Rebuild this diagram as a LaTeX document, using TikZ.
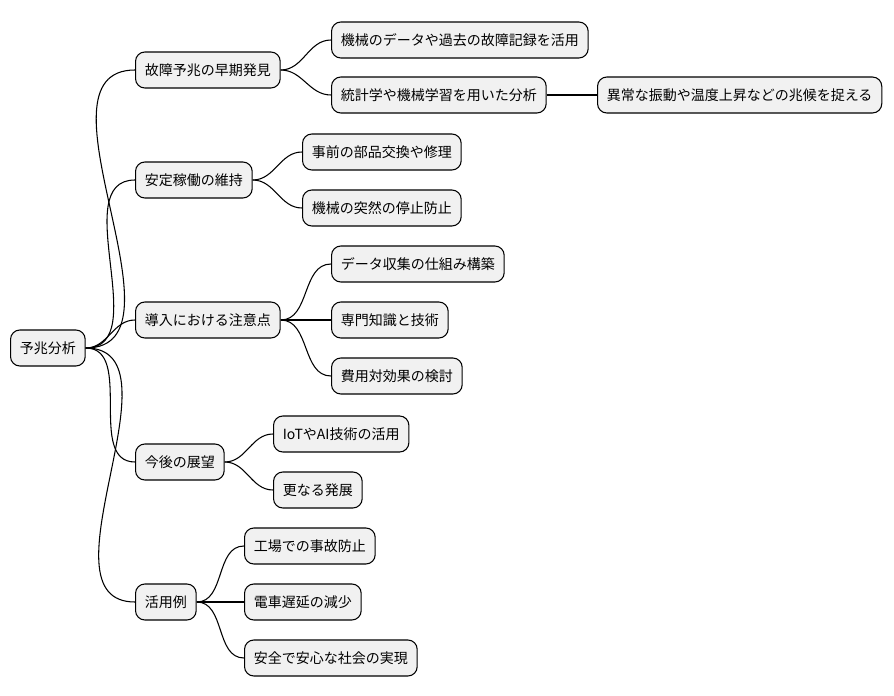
\documentclass[tikz,border=0pt]{standalone}
\usepackage{fontspec}
\setmainfont{Noto Sans CJK JP}
\begin{document}
\begin{tikzpicture}[x=0.75pt,y=-0.75pt,
  n/.style={draw=black,line width=0.8pt,fill={rgb,255:red,241;green,241;blue,241},rounded corners=7pt,minimum height=27pt,inner xsep=7pt,font=\fontsize{10.5pt}{12pt}\selectfont,anchor=west},
  e/.style={draw=black,line width=0.8pt}]
\useasboundingbox (0,0) rectangle (894,696);
\node[n] (r) at (10,348) {予兆分析};
\node[n] (a) at (135,70) {故障予兆の早期発見};
\node[n] (b) at (135,180) {安定稼働の維持};
\node[n] (c) at (135,320) {導入における注意点};
\node[n] (d) at (135,462) {今後の展望};
\node[n] (f) at (135,602) {活用例};
\node[n] (a1) at (331,40) {機械のデータや過去の故障記録を活用};
\node[n] (a2) at (331,95) {統計学や機械学習を用いた分析};
\node[n] (a3) at (597,95) {異常な振動や温度上昇などの兆候を捉える};
\node[n] (b1) at (302,152) {事前の部品交換や修理};
\node[n] (b2) at (302,208) {機械の突然の停止防止};
\node[n] (c1) at (331,264) {データ収集の仕組み構築};
\node[n] (c2) at (331,320) {専門知識と技術};
\node[n] (c3) at (331,376) {費用対効果の検討};
\node[n] (d1) at (273,434) {IoTやAI技術の活用};
\node[n] (d2) at (273,490) {更なる発展};
\node[n] (f1) at (244,546) {工場での事故防止};
\node[n] (f2) at (244,602) {電車遅延の減少};
\node[n] (f3) at (244,658) {安全で安心な社会の実現};
\foreach \p/\c in {r/a,r/b,r/c,r/d,r/f,a/a1,a/a2,a2/a3,b/b1,b/b2,c/c1,c/c2,c/c3,d/d1,d/d2,f/f1,f/f2,f/f3}
  \draw[e] (\p.east) to[out=0,in=180] (\c.west);
\end{tikzpicture}
\end{document}
